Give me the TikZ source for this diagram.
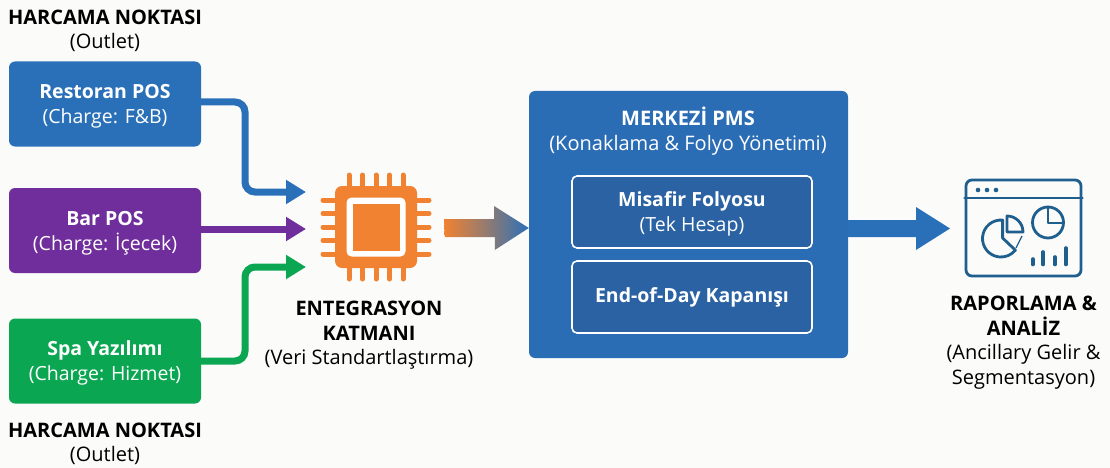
\documentclass[tikz,border=0pt]{standalone}
\usepackage{fontspec}
\setmainfont{Open Sans}
\usetikzlibrary{arrows.meta,calc}
\definecolor{bgc}{HTML}{FBFBFA}
\definecolor{cblue}{HTML}{2A70B8}
\definecolor{cpurple}{HTML}{6F2E9B}
\definecolor{cgreen}{HTML}{0BA652}
\definecolor{corange}{HTML}{F08232}
\definecolor{cpms}{HTML}{2A6DB5}
\definecolor{cinner}{HTML}{2A62A3}
\definecolor{cicon}{HTML}{1F5F8E}
\tikzset{
 srcbox/.style={minimum width=192pt,minimum height=85pt,rounded corners=6pt,inner sep=0pt},
 intext/.style={inner sep=0pt,align=center,text=white,font=\fontsize{19.5}{25}\selectfont},
 lab/.style={inner sep=0pt,align=center,text=black,font=\fontsize{20}{24.5}\selectfont},
 flow/.style={line width=7pt,rounded corners=10pt,-{Triangle[length=20pt,width=23pt]}},
 innerbox/.style={minimum width=240pt,minimum height=72pt,rounded corners=5pt,draw=white,line width=1.6pt,fill=cinner,inner sep=0pt},
 iconline/.style={draw=cicon,line width=2.8pt,line cap=round,line join=round},
 iconbar/.style={draw=cicon,line width=3.6pt,line cap=round},
 pin/.style={draw=corange,line width=5pt,line cap=round},
}
\begin{document}
\begin{tikzpicture}[x=1pt,y=-1pt]
\useasboundingbox (0,0) rectangle (1110,468);
\fill[bgc] (0,0) rectangle (1110,468);
% labels
\node[lab] (topl) at (105,31) {\textbf{HARCAMA NOKTASI}\\(Outlet)};
\node[lab] (botl) at (105,444) {\textbf{HARCAMA NOKTASI}\\(Outlet)};
% source boxes
\node[srcbox,fill=cblue] (rest) at (105,104) {};
\node[intext] (restt) at (105,106) {\textbf{Restoran POS}\\(Charge: F\&B)};
\node[srcbox,fill=cpurple] (bar) at (105,230.5) {};
\node[intext] (bart) at (105,233) {\textbf{Bar POS}\\(Charge: İçecek)};
\node[srcbox,fill=cgreen] (spa) at (105,361) {};
\node[intext] (spat) at (105,363) {\textbf{Spa Yazılımı}\\(Charge: Hizmet)};
% chip
\coordinate (chip) at (376,227);
\foreach \d in {-27,-13.5,0,13.5,27}{
 \draw[pin] ($(chip)+(\d,-52)$) -- ($(chip)+(\d,52)$);
 \draw[pin] ($(chip)+(-53,\d)$) -- ($(chip)+(53,\d)$);
}
\fill[corange,rounded corners=7pt] ($(chip)+(-41,-41)$) rectangle ($(chip)+(41,41)$);
\fill[white,rounded corners=5pt] ($(chip)+(-29.5,-29.5)$) rectangle ($(chip)+(29.5,29.5)$);
\fill[corange] ($(chip)+(-23.5,-23.5)$) rectangle ($(chip)+(23.5,23.5)$);
% connectors in
\coordinate (inb) at (306,192);
\coordinate (inp) at (306,229);
\coordinate (ing) at (306,267);
\draw[flow,draw=cblue,color=cblue] (rest.east|-0,102) -- (245,102) -- (245,192) -- (inb);
\draw[flow,draw=cpurple,color=cpurple] (bar.east|-0,229) -- (inp);
\draw[flow,draw=cgreen,color=cgreen] (spa.east|-0,361) -- (245,361) -- (245,267) -- (ing);
\node[lab] (entl) at (369,335.5) {\textbf{ENTEGRASYON}\\\textbf{KATMANI}\\(Veri Standartlaştırma)};
% PMS
\node[fill=cpms,rounded corners=6pt,minimum width=319pt,minimum height=267pt,inner sep=0pt] (pms) at (688.5,224.5) {};
\node[lab,text=white] (pmsl) at (688,131) {\textbf{MERKEZİ PMS}\\(Konaklama \& Folyo Yönetimi)};
\node[innerbox] (fol) at (692,212) {};
\node[intext] (folt) at (692,214) {\textbf{Misafir Folyosu}\\(Tek Hesap)};
\node[innerbox] (eod) at (692,297) {};
\node[intext] (eodt) at (692,297.5) {\textbf{End-of-Day Kapanışı}};
% gradient arrow
\coordinate (gs) at (444,228);
\path[left color=corange,right color=cblue,middle color=corange!55!cblue!85!gray,shading angle=90]
 (gs) ++(0,-9) -- ++(50,0) -- ++(0,-13) -- (pms.west|-gs) -- ++(-34,22) -- ++(0,-13) -- ++(-50,0) -- cycle;
% out arrow
\coordinate (outt) at (950,228.5);
\fill[cblue] (pms.east|-0,220) -- (916,220) -- (916,207) -- (outt) -- (916,250) -- (916,237) -- (pms.east|-0,237) -- cycle;
% icon
\node[draw=cicon,line width=2.8pt,rounded corners=6pt,minimum width=115pt,minimum height=96pt,inner sep=0pt] (icon) at (1023.5,228) {};
\draw[iconline] (icon.west|-0,198) -- (icon.east|-0,198);
\foreach \x in {978,987,996}{\fill[cicon] (\x,190) circle (2.3pt);}
\draw[iconline] (1002.6,220.1) arc[start angle=85,end angle=321,radius=18.5pt] -- (1002.6,238) -- cycle;
\draw[iconline] (1007,216) arc[start angle=90,end angle=0,radius=16pt] -- (1007,232) -- cycle;
\draw[cicon,line width=1.2pt] (1022,236) -- (1016,248);
\draw[iconline] (1048,222.5) circle (15.5pt);
\draw[iconline] (1048,207) -- (1048,223) -- (1063.5,223);
\draw[iconbar] (1032.7,259) -- (1032.7,264.5);
\draw[iconbar] (1043,252) -- (1043,264.5);
\draw[iconbar] (1055,257) -- (1055,264.5);
\draw[iconbar] (1065.7,248) -- (1065.7,264.5);
\node[lab] (repl) at (1023.5,342.5) {\textbf{RAPORLAMA \&}\\\textbf{ANALİZ}\\(Ancillary Gelir \&\\Segmentasyon)};
\end{tikzpicture}
\end{document}
